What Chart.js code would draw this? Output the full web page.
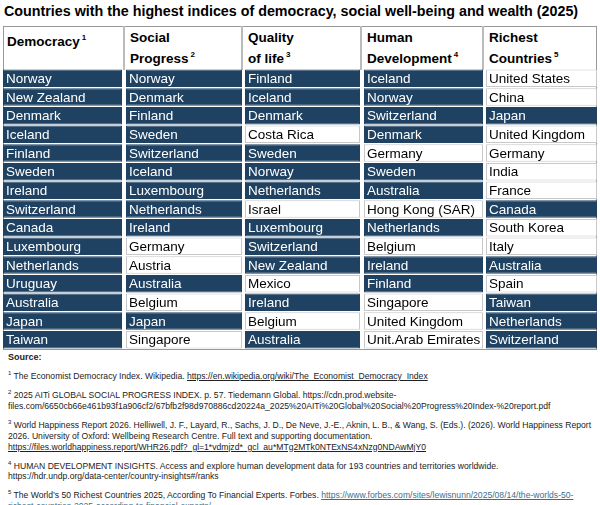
<!DOCTYPE html>
<html><head><meta charset="utf-8">
<script src="https://cdn.jsdelivr.net/npm/chart.js@4"></script>
<style>
body{margin:0;width:600px;height:505px;background:#fff;font-family:"Liberation Sans",Arial,sans-serif;position:relative;overflow:hidden}
#title{position:absolute;left:4px;top:3px;font-weight:bold;font-size:14.3px;color:#000;white-space:nowrap}
.h{position:absolute;top:29px;height:40px;font-weight:bold;font-size:13.5px;line-height:17px;color:#000}
.h sup{font-size:8px;vertical-align:6px;margin-left:2px}
.vl{position:absolute;top:26px;height:44px;width:2px;background:#bbb}
#frame{position:absolute;left:3px;top:26px;width:592px;height:322px;border:1px solid #999}
#cw{position:absolute;left:3px;top:69px;width:594px;height:280px}
#src{position:absolute;left:8px;top:352px;width:590px;font-size:8.6px;line-height:11px;color:#222}
#src p{margin:0 0 5px 0}
#src sup{font-size:6px}
.u{text-decoration:underline}
.b{color:#3a6f8f;text-decoration:underline}
</style></head><body>
<div id="title">Countries with the highest indices of democracy, social well-being and wealth (2025)</div>
<div id="frame"></div>
<div class="vl" style="left:123px"></div><div class="vl" style="left:241px"></div><div class="vl" style="left:360px"></div><div class="vl" style="left:482px"></div>
<div class="h" style="left:7px">Democracy<sup>1</sup></div>
<div class="h" style="left:130px">Social<br>Progress<sup>2</sup></div>
<div class="h" style="left:248px">Quality<br>of life<sup>3</sup></div>
<div class="h" style="left:367px">Human<br>Development<sup>4</sup></div>
<div class="h" style="left:489px">Richest<br>Countries<sup>5</sup></div>
<div id="cw"><canvas id="c"></canvas></div>
<div id="src">
<p style="font-weight:bold;font-size:9px">Source:</p>
<p><sup>1</sup> The Economist Democracy Index. Wikipedia. <span class="u">https://en.wikipedia.org/wiki/The_Economist_Democracy_Index</span></p>
<p><sup>2</sup> 2025 AITi GLOBAL SOCIAL PROGRESS INDEX. p. 57. Tiedemann Global. https://cdn.prod.website-<br>files.com/6650cb66e461b93f1a906cf2/67bfb2f98d970886cd20224a_2025%20AITi%20Global%20Social%20Progress%20Index-%20report.pdf</p>
<p><sup>3</sup> World Happiness Report 2026. Helliwell, J. F., Layard, R., Sachs, J. D., De Neve, J.-E., Aknin, L. B., &amp; Wang, S. (Eds.). (2026).  World Happiness Report 2026.  University of Oxford: Wellbeing Research Centre. Full text and supporting documentation.<br><span class="u">https://files.worldhappiness.report/WHR26.pdf?_gl=1*vdmjzd*_gcl_au*MTg2MTk0NTExNS4xNzg0NDAwMjY0</span></p>
<p><sup>4</sup> HUMAN DEVELOPMENT INSIGHTS. Access and explore human development data for 193 countries and territories worldwide.<br>https://hdr.undp.org/data-center/country-insights#/ranks</p>
<p><sup>5</sup> The World’s 50 Richest Countries 2025, According To Financial Experts. Forbes. <span class="b">https://www.forbes.com/sites/lewisnunn/2025/08/14/the-worlds-50-richest-countries-2025-according-to-financial-experts/</span></p>
</div>
<script>
const ranks = ["1","2","3","4","5","6","7","8","9","10","11","12","13","14","15"];
const democracy = ["Norway","New Zealand","Denmark","Iceland","Finland","Sweden","Ireland","Switzerland","Canada","Luxembourg","Netherlands","Uruguay","Australia","Japan","Taiwan"];
const socialProgress = ["Norway","Denmark","Finland","Sweden","Switzerland","Iceland","Luxembourg","Netherlands","Ireland","Germany","Austria","Australia","Belgium","Japan","Singapore"];
const qualityOfLife = ["Finland","Iceland","Denmark","Costa Rica","Sweden","Norway","Netherlands","Israel","Luxembourg","Switzerland","New Zealand","Mexico","Ireland","Belgium","Australia"];
const humanDevelopment = ["Iceland","Norway","Switzerland","Denmark","Germany","Sweden","Australia","Hong Kong (SAR)","Netherlands","Belgium","Ireland","Finland","Singapore","United Kingdom","Unit.Arab Emirates"];
const richest = ["United States","China","Japan","United Kingdom","Germany","India","France","Canada","South Korea","Italy","Australia","Spain","Taiwan","Netherlands","Switzerland"];
const columns = [democracy, socialProgress, qualityOfLife, humanDevelopment, richest];

const colEdges = [[0,119],[123,239],[242,357],[361,480],[483,594]];
const NAVY = "#1f4262";
const datasets = columns.map((col,ci)=>({
  data: col.map(()=>colEdges[ci]),
  names: col,
  backgroundColor: col.map(n=>democracy.includes(n)?NAVY:"#ffffff"),
  borderColor: col.map(n=>democracy.includes(n)?NAVY:"#c8c8c8"),
  borderWidth: 1, borderSkipped:false,
  grouped:false, barPercentage:0.94, categoryPercentage:1
}));
const labelPlugin = {id:"lbl", afterDatasetsDraw(chart){
  const ctx=chart.ctx; ctx.save();
  ctx.font='13.5px "Liberation Sans", Arial, sans-serif'; ctx.textBaseline="middle";
  chart.data.datasets.forEach((ds,di)=>{
    chart.getDatasetMeta(di).data.forEach((bar,i)=>{
      const n=ds.names[i];
      ctx.fillStyle=democracy.includes(n)?"#fff":"#000";
      ctx.fillText(n, chart.scales.x.getPixelForValue(ds.data[i][0])+3, bar.y+1);
    });
  });
  ctx.restore();
}};
new Chart(document.getElementById("c"),{
  type:"bar",
  data:{labels:ranks, datasets},
  options:{indexAxis:"y",responsive:true,maintainAspectRatio:false,animation:false,
    layout:{padding:0},
    plugins:{legend:{display:false},tooltip:{enabled:false}},
    scales:{x:{type:"linear",min:0,max:594,display:false},y:{display:false}}},
  plugins:[labelPlugin]
});
</script>
</body></html>
